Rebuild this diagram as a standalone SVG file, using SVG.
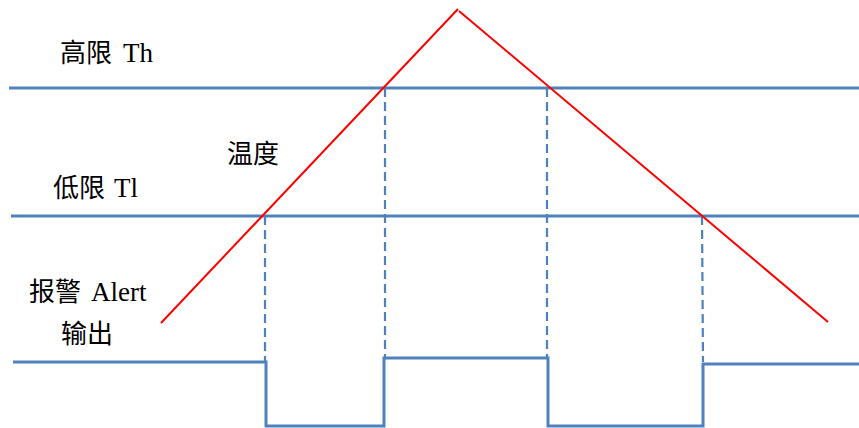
<svg xmlns="http://www.w3.org/2000/svg" width="859" height="428" viewBox="0 0 859 428">
<style>
.lvl{stroke:#4F81BD;stroke-width:3;fill:none}
.dash{stroke:#4F81BD;stroke-width:2.2;stroke-dasharray:9,5;fill:none}
.temp{stroke:#FF0000;stroke-width:2;fill:none}
.out{stroke:#4F81BD;stroke-width:3;fill:none;stroke-linejoin:miter}
text{font-family:"Liberation Serif","Noto Sans CJK SC",serif;font-size:26px;fill:#000}
.lat{font-size:27px}
</style>
<rect width="859" height="428" fill="#fff"/>
<g id="connectors">
<line class="lvl" x1="9" y1="88" x2="859" y2="88"/>
<line class="lvl" x1="11" y1="216" x2="859" y2="216"/>
<line class="dash" x1="265" y1="216" x2="265" y2="362"/>
<line class="dash" x1="385" y1="88" x2="385" y2="358"/>
<line class="dash" x1="547" y1="88" x2="547" y2="358"/>
<line class="dash" x1="702" y1="216" x2="703" y2="362"/>
<polyline class="temp" points="161,323 458,9"/>
<polyline class="temp" points="459,11 828,322"/>
<polyline class="out" points="13,362 266,362 266,426 384,426 384,358 548,358 548,426 703,426 703,364 859,364"/>
</g>
<g id="label-th"><text x="60" y="62">高限<tspan class="lat" x="123">Th</tspan></text></g>
<g id="label-temp"><text x="227" y="163">温度</text></g>
<g id="label-tl"><text x="53" y="197">低限<tspan class="lat" x="114">Tl</tspan></text></g>
<g id="label-alert"><text x="29" y="301">报警<tspan class="lat" x="91">Alert</tspan></text><text x="61" y="343">输出</text></g>
</svg>
